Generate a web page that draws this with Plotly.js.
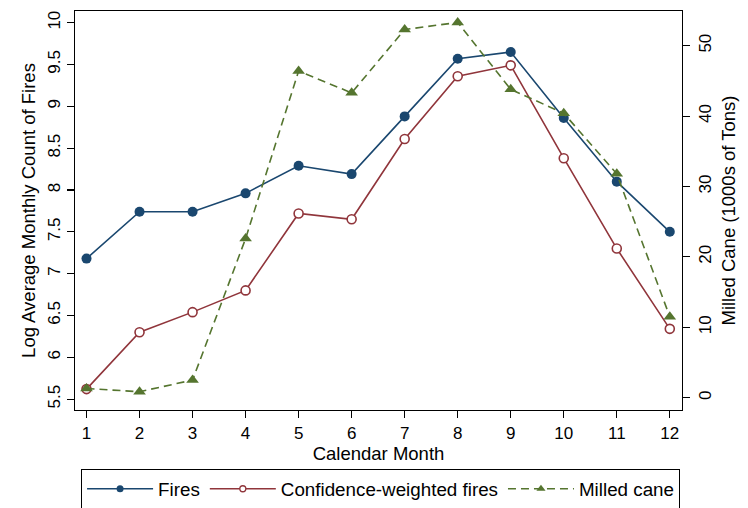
<!DOCTYPE html>
<html>
<head>
<meta charset="utf-8">
<script src="https://cdn.plot.ly/plotly-3.0.1.min.js"></script>
<style>html,body{margin:0;padding:0;background:#fff;}#chart{width:748px;height:508px;}</style>
</head>
<body>
<div id="chart"></div>
<script>
// Data
const months = [1, 2, 3, 4, 5, 6, 7, 8, 9, 10, 11, 12];
const fires = [7.18, 7.74, 7.74, 7.96, 8.29, 8.19, 8.88, 9.57, 9.65, 8.86, 8.10, 7.50];
const confWeighted = [5.62, 6.30, 6.54, 6.80, 7.72, 7.65, 8.61, 9.36, 9.49, 8.38, 7.30, 6.34];
const milledCane = [1.3, 0.85, 2.5, 22.6, 46.4, 43.3, 52.3, 53.3, 43.8, 40.4, 31.8, 11.5];
const leftTicks = [5.5, 6, 6.5, 7, 7.5, 8, 8.5, 9, 9.5, 10];
const leftTickText = ["5.5", "6", "6.5", "7", "7.5", "8", "8.5", "9", "9.5", "10"];
const rightTicks = [0, 10, 20, 30, 40, 50];
const seriesNames = ["Fires", "Confidence-weighted fires", "Milled cane"];

const FONT = "Liberation Sans, Arial, Helvetica, sans-serif";
const navy = "#1a476f", maroon = "#90353b", green = "#55752f";

const styles = [
  {line: {color: navy, width: 1.6}, marker: {color: navy, size: 10, symbol: "circle"}, lm: {color: navy, size: 7, symbol: "circle"}},
  {line: {color: maroon, width: 1.6}, marker: {color: "#fff", size: 9, symbol: "circle", line: {color: maroon, width: 1.6}},
   lm: {color: "#fff", size: 6, symbol: "circle", line: {color: maroon, width: 1.3}}},
  {line: {color: green, width: 1.6, dash: "8px,5px"}, marker: {color: green, size: 11, symbol: "triangle-up"}, lm: {color: green, size: 8, symbol: "triangle-up"}}
];
const ydata = [fires, confWeighted, milledCane];
const yaxes = ["y", "y", "y2"];

const traces = [];
// data traces
for (let i = 0; i < 3; i++) {
  traces.push({
    x: months, y: ydata[i], name: seriesNames[i], type: "scatter", mode: "lines+markers",
    yaxis: yaxes[i], line: styles[i].line, marker: styles[i].marker, showlegend: false
  });
}
// legend entries (smaller legend symbols, as in the reference)
for (let i = 0; i < 3; i++) {
  traces.push({
    x: [null], y: [null], name: seriesNames[i], type: "scatter", mode: "lines+markers",
    yaxis: yaxes[i], line: styles[i].line, marker: styles[i].lm, showlegend: true, hoverinfo: "skip"
  });
}

const axisCommon = {
  showgrid: false, zeroline: false, showline: true, linecolor: "#000", linewidth: 1.3,
  ticks: "outside", ticklen: 7, tickwidth: 1.2, tickcolor: "#000",
  tickfont: {family: FONT, size: 17, color: "#000"}
};

const layout = {
  width: 748, height: 508,
  margin: {l: 75, r: 66, t: 11, b: 98, autoexpand: false},
  paper_bgcolor: "#fff", plot_bgcolor: "#fff",
  font: {family: FONT, color: "#000"},
  showlegend: true,
  xaxis: Object.assign({}, axisCommon, {
    range: [0.783, 12.23], tickvals: months, mirror: true, automargin: false,
    title: {text: "Calendar Month", font: {family: FONT, size: 18.5}, standoff: 4}
  }),
  yaxis: Object.assign({}, axisCommon, {
    range: [5.37, 10.14], tickvals: leftTicks, ticktext: leftTickText, tickangle: -90, automargin: false,
    title: {text: "Log Average Monthly Count of Fires", font: {family: FONT, size: 18.5}, standoff: 4}
  }),
  yaxis2: Object.assign({}, axisCommon, {
    overlaying: "y", side: "right", range: [-1.75, 54.93], tickvals: rightTicks, tickangle: -90, automargin: false,
    title: {text: "Milled Cane (1000s of Tons)", font: {family: FONT, size: 18.5}, standoff: 8}
  }),
  legend: {
    orientation: "h", x: 0.01, xanchor: "left", y: -0.148, yanchor: "top",
    bordercolor: "#000", borderwidth: 1, bgcolor: "#fff",
    font: {family: FONT, size: 18.8, color: "#000"},
    itemwidth: 66, traceorder: "normal"
  }
};

Plotly.newPlot("chart", traces, layout, {displayModeBar: false, staticPlot: true});
</script>
</body>
</html>
